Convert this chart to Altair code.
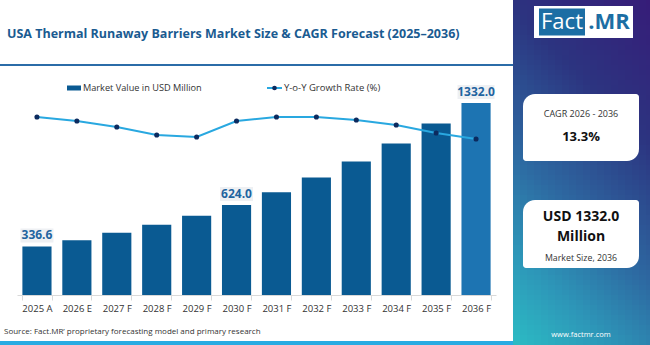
import altair as alt
import pandas as pd

# ---- data -------------------------------------------------------------
years = ["2025 A", "2026 E", "2027 F", "2028 F", "2029 F", "2030 F",
         "2031 F", "2032 F", "2033 F", "2034 F", "2035 F", "2036 F"]
market_value = [336.6, 380.0, 431.0, 488.0, 549.0, 624.0,
                713.0, 815.0, 926.0, 1051.0, 1190.0, 1332.0]
yoy_growth = [14.6, 14.2, 13.6, 12.8, 12.6, 14.2,
              14.6, 14.6, 14.3, 13.8, 13.0, 12.4]
labeled_years = ["2025 A", "2030 F", "2036 F"]

title_text = "USA Thermal Runaway Barriers Market Size & CAGR Forecast (2025\u20132036)"
source_text = "Source: Fact.MR\u2019 proprietary forecasting model and primary research"
cagr_caption = "CAGR 2026 - 2036"
cagr_value = "13.3%"
size_value = ["USD 1332.0", "Million"]
size_caption = "Market Size, 2036"

df = pd.DataFrame({"year": years, "value": market_value, "growth": yoy_growth})
df["label"] = df["value"].map(lambda v: f"{v:.1f}")
df["show"] = df["year"].isin(labeled_years)

# ---- layout -----------------------------------------------------------
W, H = 650, 345
X0, Y0 = 17, 103          # plot-area origin inside the canvas
PW, PH = 479, 192         # plot-area size
PANEL_X = 513             # left edge of the side panel
FONT = "Open Sans"

BAR = "#0a5a92"
BAR_LAST = "#1d74b2"
LINE = "#29a8e0"
DOT = "#0c2a5e"
TITLE = "#1a5b91"

# side-panel diagonal colour ramp: 0 = top-right corner, 1 = bottom-left corner
PANEL_STOPS = [(0.0, (54, 28, 120)), (0.3, (44, 52, 128)), (0.6, (45, 106, 162)),
               (0.8, (45, 150, 184)), (1.0, (44, 188, 196))]


def px(x):
    return alt.value(x - X0)


def py(y):
    return alt.value(y - Y0)


one = alt.Data(values=[{}])


def box(x1, x2, y1, y2, **mark):
    return alt.Chart(one).mark_rect(**mark).encode(
        x=px(x1), x2=px(x2), y=py(y1), y2=py(y2))


def label(x, y, text, **mark):
    opts = dict(font=FONT, baseline="middle", align="center")
    opts.update(mark)
    return alt.Chart(one).mark_text(**opts).encode(
        x=px(x), y=py(y), text=alt.value(text))


def ramp(t):
    t = max(0.0, min(1.0, t))
    for (t0, c0), (t1, c1) in zip(PANEL_STOPS, PANEL_STOPS[1:]):
        if t <= t1:
            f = (t - t0) / (t1 - t0)
            return "#%02x%02x%02x" % tuple(round(a + (b - a) * f) for a, b in zip(c0, c1))
    return "#%02x%02x%02x" % PANEL_STOPS[-1][1]


x_enc = alt.X("year:N", sort=years, title=None,
              scale=alt.Scale(paddingInner=0.27, paddingOuter=0.135),
              axis=alt.Axis(labelAngle=0, labelFont=FONT, labelFontSize=9.5,
                            labelColor="#333333", labelPadding=3,
                            domainColor="#d9d9d9", tickColor="#d9d9d9",
                            tickSize=5, tickBand="extent", zindex=1))
y_val = alt.Y("value:Q", axis=None, scale=alt.Scale(domain=[0, 1332], nice=False))

# ---- background and frame ----------------------------------------------
background = box(0, PANEL_X, 0, H, color="white")
top_line = box(0, PANEL_X, 64, 66, color="#2b6ca8")
bottom_strip = box(0, PANEL_X, 341, H, color="#29abe2")

# side panel shaded as a grid of small cells along a diagonal ramp
CW, CH = 7, 5
cells = []
for cy in range(0, H, CH):
    for cx in range(PANEL_X, W, CW):
        u = (cx + CW / 2 - PANEL_X) / (W - PANEL_X)
        v = (cy + CH / 2) / H
        cells.append({"x1": cx - X0, "x2": min(cx + CW + 1, W) - X0,
                      "y1": cy - Y0, "y2": min(cy + CH + 1, H) - Y0,
                      "fill": ramp(0.72 * v + 0.28 * (1 - u))})
side_panel = alt.Chart(pd.DataFrame(cells)).mark_rect().encode(
    x=alt.X("x1:Q", scale=None), x2="x2:Q",
    y=alt.Y("y1:Q", scale=None), y2="y2:Q",
    color=alt.Color("fill:N", scale=None))

title = label(7, 34, title_text, align="left", fontSize=12.5,
              fontWeight="bold", color=TITLE)
source = label(4, 332, source_text, align="left", fontSize=8, color="#333333")

# ---- legend --------------------------------------------------------------
legend = [
    box(67, 81, 85.5, 90.5, color=BAR),
    label(83, 88, "Market Value in USD Million", align="left",
          fontSize=9.2, color="#333333"),
    alt.Chart(one).mark_rule(color=LINE, strokeWidth=2).encode(
        x=px(267), x2=px(282), y=py(88)),
    alt.Chart(one).mark_point(filled=True, size=22, color=DOT, opacity=1).encode(
        x=px(274.5), y=py(88)),
    label(284, 88, "Y-o-Y Growth Rate (%)", align="left",
          fontSize=9.5, color="#333333"),
]

# ---- side panel content --------------------------------------------------
logo = [
    box(534, 633, 6, 38, color="white"),
    box(539, 585, 8.5, 35.5, color="#1c6ea4"),
    label(562, 22, "Fact", fontSize=22, color="white"),
    label(609, 22, ".MR", fontSize=22, fontWeight="bold", color="#1c6ea4"),
]
card_style = dict(color="white", cornerRadiusTopLeft=12, cornerRadiusBottomRight=12,
                  cornerRadiusTopRight=3, cornerRadiusBottomLeft=3)
cards = [
    box(523, 639, 94, 161, **card_style),
    label(581, 114, cagr_caption, fontSize=9, color="#333333"),
    label(581, 137, cagr_value, fontSize=13, fontWeight="bold", color="#111111"),
    box(523, 639, 200, 268, **card_style),
    label(581, 217, size_value[0], fontSize=14, fontWeight="bold", color="#111111"),
    label(581, 237, size_value[1], fontSize=14, fontWeight="bold", color="#111111"),
    label(581, 258, size_caption, fontSize=8.8, color="#333333"),
    label(581, 335, "www.factmr.com", fontSize=7.5, color="white"),
]

# ---- data marks ----------------------------------------------------------
base = alt.Chart(df)

bars = base.mark_bar().encode(
    x=x_enc, y=y_val,
    color=alt.condition(alt.datum.year == "2036 F",
                        alt.value(BAR_LAST), alt.value(BAR)))

shown = base.transform_filter("datum.show")
label_boxes = [
    shown.transform_filter("length(datum.label) <= 5")
         .mark_rect(width=33, height=14, color="#eef0f3", yOffset=-11)
         .encode(x=x_enc, y=y_val),
    shown.transform_filter("length(datum.label) > 5")
         .mark_rect(width=37, height=14, color="#eef0f3", yOffset=-11)
         .encode(x=x_enc, y=y_val),
]
bar_labels = shown.mark_text(font=FONT, fontSize=12, fontWeight="bold",
                             color="#1f64a0", dy=-11, baseline="middle").encode(
    x=x_enc, y=y_val, text="label:N")

y_growth = alt.Y("growth:Q", axis=None,
                 scale=alt.Scale(domain=[-3.2, 16.0], nice=False, zero=False))
growth_line = base.mark_line(color=LINE, strokeWidth=2).encode(x=x_enc, y=y_growth)
growth_dots = base.mark_point(filled=True, size=26, color=DOT, opacity=1).encode(
    x=x_enc, y=y_growth)

chart = alt.layer(
    background, side_panel, top_line, bottom_strip, title, source,
    *legend, *logo, *cards,
    bars, *label_boxes, bar_labels, growth_line, growth_dots,
).resolve_scale(y="independent").properties(
    width=PW, height=PH,
    padding={"left": X0, "top": Y0, "right": W - X0 - PW, "bottom": H - Y0 - PH},
    autosize="none",
    background="white",
).configure_view(stroke=None)

chart.save("out.html", embed_options={"renderer": "svg", "actions": False})
